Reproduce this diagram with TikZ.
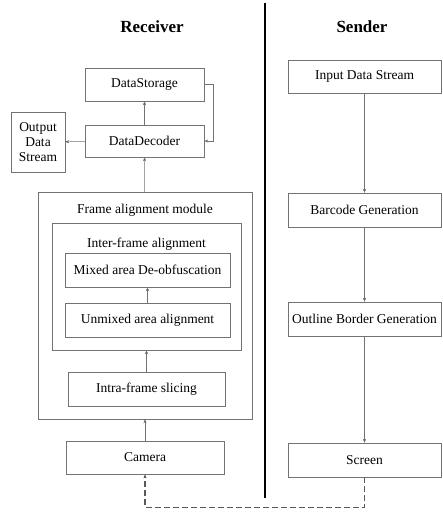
\documentclass[tikz,border=0pt]{standalone}
\usepackage{fontspec}
\setmainfont{Liberation Serif}
\usetikzlibrary{arrows.meta,positioning}

\tikzset{
	block/.style={draw=black!55, rectangle, minimum height=33pt, inner sep=2pt, font=\fontsize{13.5}{15}\selectfont},
	group/.style={draw=black!55, rectangle},
	head/.style={font=\fontsize{13.5}{15}\selectfont},
	side/.style={font=\bfseries\fontsize{17}{20}\selectfont},
	flow/.style={draw=black!55, -{Stealth[length=4pt,width=3pt]}},
	link/.style={flow, dash pattern=on 6pt off 3pt, line width=1.2pt, draw=black!65}
}

\begin{document}
\begin{tikzpicture}[x=1pt, y=-1pt, node distance=40pt, on grid]
		\useasboundingbox (0,0) rectangle (442,513);
		
		% receiver side
		\node[side]					(receiver)	at (152,27)									{Receiver};
		\node[block, minimum width=119pt]	(storage)	at (144.5,84.5)								{DataStorage};
		\node[block, minimum width=119pt, minimum height=32pt]	(decoder)	[below=56.5pt of storage]	{DataDecoder};
		\node[block, minimum width=54pt, minimum height=60pt, align=center]	(output)	at (38,142)	{Output\\Data\\Stream};
		
		\node[group, minimum width=214pt, minimum height=227pt]	(frame)	at (145,305.5)				{};
		\node[head]					(frametitle)	[below=9pt of frame.north]					{Frame alignment module};
		\node[group, minimum width=189pt, minimum height=127pt]	(inter)	at (146.5,286.5)			{};
		\node[head]					(intertitle)	[below=12pt of inter.north]					{Inter-frame alignment};
		\node[block, minimum width=165pt, minimum height=34pt]	(mixed)	at (147.5,270)				{Mixed area De-obfuscation};
		\node[block, minimum width=165pt, minimum height=34pt]	(unmixed)	[below=50pt of mixed]	{Unmixed area alignment};
		\node[block, minimum width=157pt, minimum height=34pt]	(intra)	at (146.5,389)				{Intra-frame slicing};
		\node[block, minimum width=158pt]	(camera)	at (145,457.5)								{Camera};
		
		% sender side
		\node[side]					(sender)	at (362,27)									{Sender};
		\node[block, minimum width=153pt]	(input)	at (364.5,76.5)								{Input Data Stream};
		\node[block, minimum width=153pt, minimum height=34pt]	(barcode)	[below=133.5pt of input]	{Barcode Generation};
		\node[block, minimum width=153pt, minimum height=34pt]	(outline)	[below=109pt of barcode]	{Outline Border Generation};
		\node[block, minimum width=153pt, minimum height=34pt]	(screen)	[below=141pt of outline]	{Screen};
		
		\draw[line width=2pt] (265,3) -- (265,498);
		
		\path[flow]	(decoder)	edge	(storage)
								edge	(output)
					(frame)		edge	(decoder)
					(unmixed)	edge	(mixed)
					(intra)		edge	(inter)
					(camera)	edge	(frame)
					(input)		edge	(barcode)
					(barcode)	edge	(outline)
					(outline)	edge	(screen);
		\draw[flow]	(storage.east) -- ++(9,0) |- (decoder.east);
		\draw[link]	(screen.south) -- ++(0,30) -| (camera.south);
	\end{tikzpicture}
\end{document}
